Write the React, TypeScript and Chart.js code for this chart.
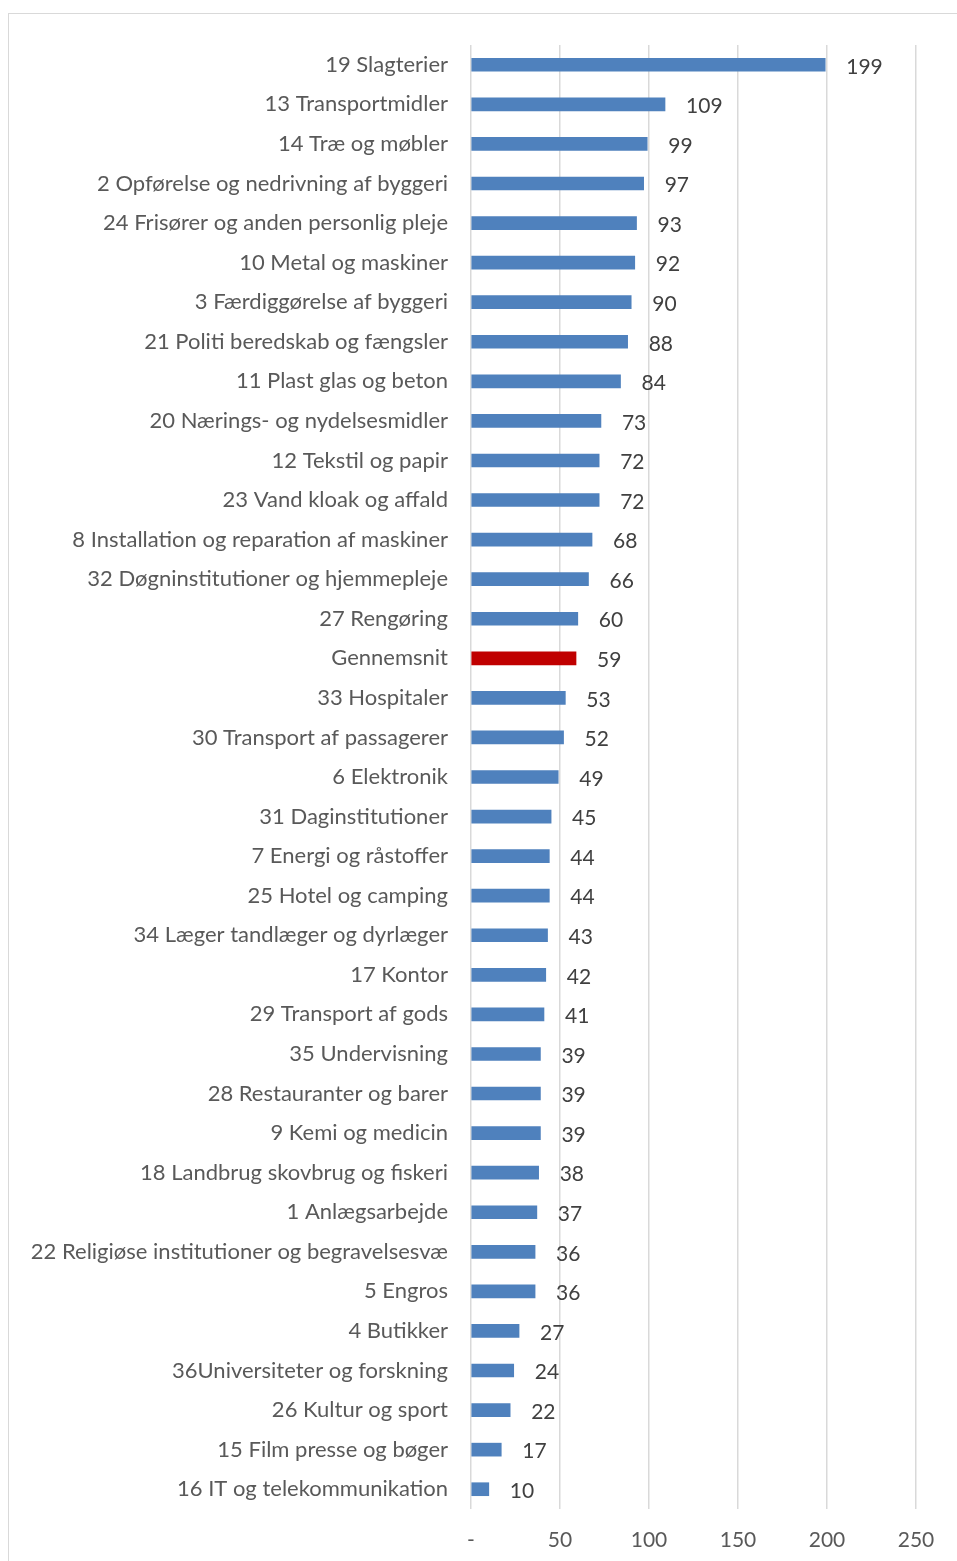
import React, { useEffect, useRef } from "react";
import { Chart, registerables } from "chart.js";

Chart.register(...registerables);

const categories: string[] = [
  "19 Slagterier",
  "13 Transportmidler",
  "14 Træ og møbler",
  "2 Opførelse og nedrivning af byggeri",
  "24 Frisører og anden personlig pleje",
  "10 Metal og maskiner",
  "3 Færdiggørelse af byggeri",
  "21 Politi beredskab og fængsler",
  "11 Plast glas og beton",
  "20 Nærings- og nydelsesmidler",
  "12 Tekstil og papir",
  "23 Vand kloak og affald",
  "8 Installation og reparation af maskiner",
  "32 Døgninstitutioner og hjemmepleje",
  "27 Rengøring",
  "Gennemsnit",
  "33 Hospitaler",
  "30 Transport af passagerer",
  "6 Elektronik",
  "31 Daginstitutioner",
  "7 Energi og råstoffer",
  "25 Hotel og camping",
  "34 Læger tandlæger og dyrlæger",
  "17 Kontor",
  "29 Transport af gods",
  "35 Undervisning",
  "28 Restauranter og barer",
  "9 Kemi og medicin",
  "18 Landbrug skovbrug og fiskeri",
  "1 Anlægsarbejde",
  "22 Religiøse institutioner og begravelsesvæ",
  "5 Engros",
  "4 Butikker",
  "36Universiteter og forskning",
  "26 Kultur og sport",
  "15 Film presse og bøger",
  "16 IT og telekommunikation",
];

const values: number[] = [
  199, 109, 99, 97, 93, 92, 90, 88, 84, 73, 72, 72, 68, 66, 60, 59, 53, 52, 49,
  45, 44, 44, 43, 42, 41, 39, 39, 39, 38, 37, 36, 36, 27, 24, 22, 17, 10,
];

const xTicks: number[] = [0, 50, 100, 150, 200, 250];
const highlightCategory = "Gennemsnit";

const FONT = "Lato, 'Liberation Sans', sans-serif";

export default function App() {
  const canvasRef = useRef<HTMLCanvasElement | null>(null);

  useEffect(() => {
    if (!canvasRef.current) return;
    const valueLabels = {
      id: "valueLabels",
      afterDatasetsDraw(chart: any) {
        const ctx = chart.ctx;
        const meta = chart.getDatasetMeta(0);
        ctx.save();
        ctx.font = `21px ${FONT}`;
        ctx.fillStyle = "#404040";
        ctx.textAlign = "left";
        ctx.textBaseline = "middle";
        meta.data.forEach((bar: any, i: number) => {
          ctx.fillText(String(values[i]), bar.x + 21, bar.y + 2);
        });
        ctx.restore();
      },
    };

    const chart = new Chart(canvasRef.current, {
      type: "bar",
      data: {
        labels: categories,
        datasets: [
          {
            data: values,
            backgroundColor: categories.map((c) =>
              c === highlightCategory ? "#C00000" : "#4F81BD"
            ),
            barThickness: 13,
          },
        ],
      },
      options: {
        indexAxis: "y",
        responsive: false,
        animation: false,
        devicePixelRatio: 1,
        layout: { padding: { top: 45, right: 41, left: 0, bottom: 0 } },
        plugins: { legend: { display: false }, tooltip: { enabled: false } },
        scales: {
          x: {
            min: 0,
            max: 250,
            afterBuildTicks: (s: any) => {
              s.ticks = xTicks.map((v) => ({ value: v }));
            },
            afterFit: (s: any) => {
              s.height = 52;
            },
            grid: { color: "#D9D9D9", lineWidth: 1.5, drawTicks: false },
            border: { display: false },
            ticks: {
              padding: 19,
              color: "#595959",
              font: { family: FONT, size: 21 },
              callback: (v: any) => (Number(v) === 0 ? "-" : String(v)),
            },
          },
          y: {
            afterFit: (s: any) => {
              s.width = 471;
            },
            grid: { display: false, drawTicks: false },
            border: { display: false },
            ticks: {
              padding: 23,
              color: "#595959",
              font: { family: FONT, size: 22 },
              autoSkip: false,
            },
          },
        },
      },
      plugins: [valueLabels],
    });
    return () => chart.destroy();
  }, []);

  return (
    <div style={{ position: "absolute", left: 0, top: 0, width: 957, height: 1561, overflow: "hidden", background: "#fff" }}>
      <div
        style={{
          position: "absolute",
          left: 8,
          top: 13,
          width: 1000,
          height: 1600,
          border: "1.5px solid #D9D9D9",
        }}
      />
      <canvas
        ref={canvasRef}
        width={957}
        height={1561}
        style={{ position: "absolute", left: 0, top: 0 }}
      />
    </div>
  );
}
